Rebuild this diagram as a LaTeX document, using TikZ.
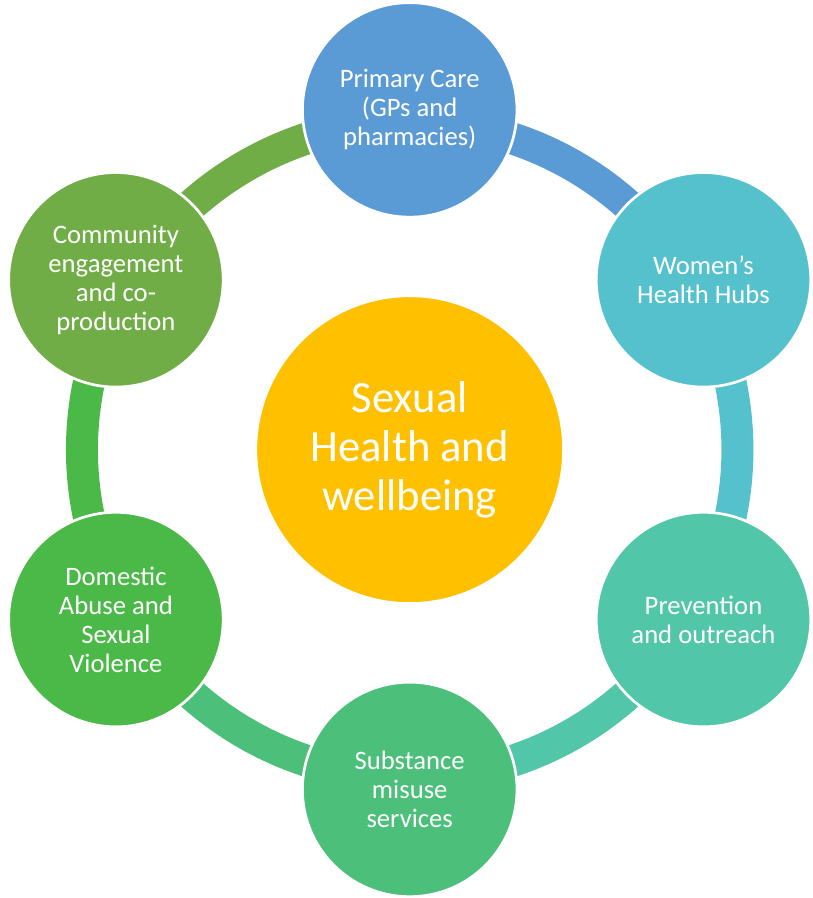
\documentclass[tikz,border=0pt]{standalone}
\usepackage{fontspec}
\setmainfont{Carlito}

\definecolor{hubYellow}{RGB}{255,192,0}
\definecolor{primBlue}{RGB}{91,155,213}
\definecolor{womenCyan}{RGB}{85,193,204}
\definecolor{prevTeal}{RGB}{81,198,168}
\definecolor{substGreen}{RGB}{76,192,122}
\definecolor{domGreen}{RGB}{75,185,72}
\definecolor{commGreen}{RGB}{112,173,71}

\tikzset{every picture/.style={line width=0.75pt}}
\tikzset{
  spoke/.style={circle, draw=white, line width=2pt, minimum size=161pt, inner sep=0pt,
    text=white, align=center, font=\fontsize{20}{21.75}\selectfont},
  hubnode/.style={circle, fill=hubYellow, draw=white, line width=2pt, minimum size=231pt,
    inner sep=0pt, text=white, align=center, font=\fontsize{33.5}{37}\selectfont},
  band/.style={line width=24pt}
}

\begin{document}
\begin{tikzpicture}[x=0.75pt,y=0.75pt,yscale=-1,xscale=1]
\path (0,0) rectangle (810,898); %set diagram size

% Centre of the cycle
\coordinate (ring) at (410,450);

%Ring segments
\draw [band, primBlue]   (ring) ++(-90:328) arc [start angle=-90, end angle=-30, radius=328];
\draw [band, womenCyan]  (ring) ++(-30:328) arc [start angle=-30, end angle=30, radius=328];
\draw [band, prevTeal]   (ring) ++(30:328) arc [start angle=30, end angle=90, radius=328];
\draw [band, substGreen] (ring) ++(90:328) arc [start angle=90, end angle=150, radius=328];
\draw [band, domGreen]   (ring) ++(150:328) arc [start angle=150, end angle=210, radius=328];
\draw [band, commGreen]  (ring) ++(210:328) arc [start angle=210, end angle=270, radius=328];

%Shape: Ellipse - hub
\node [hubnode] (hub) at (ring) {Sexual\\Health and\\wellbeing};

%Shape: Ellipse - outer circles
\node [spoke, fill=primBlue]   (prim)  at (410,110) {Primary Care\\(GPs and\\pharmacies)};
\node [spoke, fill=womenCyan]  (women) at (704,280) {Women’s\\Health Hubs};
\node [spoke, fill=prevTeal]   (prev)  at (704,620) {Prevention\\and outreach};
\node [spoke, fill=substGreen] (subst) at (410,790) {Substance\\misuse\\services};
\node [spoke, fill=domGreen]   (dom)   at (116,620) {Domestic\\Abuse and\\Sexual\\Violence};
\node [spoke, fill=commGreen]  (comm)  at (116,280) {Community\\engagement\\and co-\\production};

\end{tikzpicture}
\end{document}
